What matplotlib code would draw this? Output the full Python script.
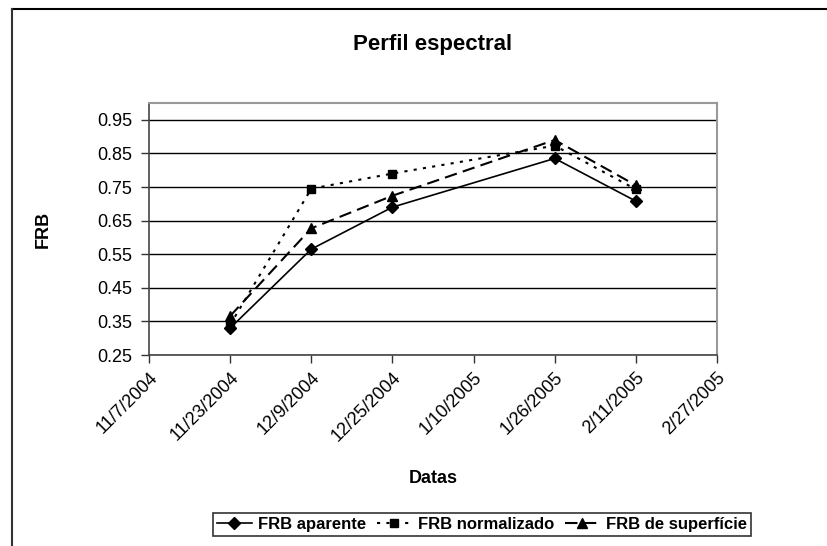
import matplotlib
matplotlib.use("Agg")
import matplotlib.pyplot as plt
from matplotlib.lines import Line2D
import datetime as dt

plt.rcParams['font.family'] = ['Liberation Sans', 'DejaVu Sans']

# data
datas = ["2004-11-23", "2004-12-09", "2004-12-25", "2005-01-26", "2005-02-11"]
frb_aparente = [0.330, 0.565, 0.690, 0.835, 0.708]
frb_normalizado = [0.340, 0.745, 0.790, 0.873, 0.743]
frb_superficie = [0.366, 0.627, 0.724, 0.890, 0.755]

x = [dt.datetime.strptime(d, "%Y-%m-%d") for d in datas]
x_min = dt.datetime(2004, 11, 7)
x_max = dt.datetime(2005, 2, 27)
yticks = [0.25, 0.35, 0.45, 0.55, 0.65, 0.75, 0.85, 0.95]

fig = plt.figure(figsize=(8.27, 5.46), dpi=100)
ax = fig.add_axes([149/827, 1-355/546, (717-149)/827, (355-103)/546])

ax.plot(x, frb_aparente, color='black', lw=1.2, ls='-', marker='D', ms=6,
        label='FRB aparente')
ax.plot(x, frb_normalizado, color='black', lw=1.5, ls=(0, (1.5, 3)), marker='s', ms=6,
        label='FRB normalizado')
ax.plot(x, frb_superficie, color='black', lw=1.5, ls=(0, (6, 3)), marker='^', ms=7,
        label='FRB de superfície')

ax.set_ylim(0.25, 1.0)
ax.set_yticks(yticks)
ax.set_yticklabels([f"{v:.2f}" for v in yticks])
ax.yaxis.grid(True, color='black', lw=1)
ax.set_axisbelow(True)

ax.set_xlim(x_min, x_max)
xt = [x_min + dt.timedelta(days=16*i) for i in range(8)]
ax.set_xticks(xt)
ax.set_xticklabels([f"{d.month}/{d.day}/{d.year}" for d in xt], rotation=45,
                   ha='right', rotation_mode='anchor')

ax.tick_params(axis='both', direction='out', length=6, width=1, labelsize=13,
               color='#333333')
ax.tick_params(axis='y', pad=6)
ax.tick_params(axis='x', pad=4)

for side in ['top', 'right']:
    ax.spines[side].set_color('#999999')
    ax.spines[side].set_linewidth(1.5)
for side in ['left', 'bottom']:
    ax.spines[side].set_color('#444444')
    ax.spines[side].set_linewidth(1.2)

ax.set_title('Perfil espectral', fontsize=16, fontweight='bold', pad=38)
ax.set_xlabel('Datas', fontsize=13, fontweight='bold', labelpad=18)
ax.set_ylabel('FRB', fontsize=13, fontweight='bold', labelpad=33)

leg = fig.legend(loc='center', bbox_to_anchor=(482/827, 1-524.5/546), ncol=3,
                 frameon=True, fancybox=False, edgecolor='black',
                 prop={'weight': 'bold', 'size': 12}, handlelength=2.1,
                 columnspacing=0.6, handletextpad=0.4, borderpad=0.25,
                 borderaxespad=0.2)
leg.get_frame().set_linewidth(1.2)

# chart area border (top and left visible)
fig.add_artist(Line2D([12/827, 1], [1-9/546, 1-9/546], color='black', lw=1.5))
fig.add_artist(Line2D([12/827, 12/827], [0, 1-9/546], color='#333333', lw=1.5))

fig.savefig('out.png', dpi=100)
